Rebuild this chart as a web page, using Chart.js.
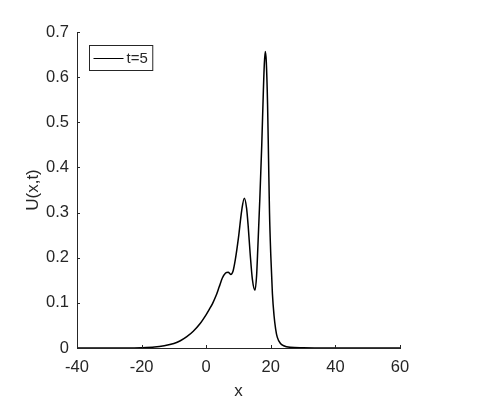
<!DOCTYPE html>
<html>
<head>
<meta charset="utf-8">
<script src="https://cdn.jsdelivr.net/npm/chart.js@4.4.1/dist/chart.umd.min.js"></script>
<style>
  body { margin: 0; background: #fff; }
  #plot { display: block; }
</style>
</head>
<body>
<canvas id="plot" width="500" height="420"></canvas>
<script>
// Profile U(x,t) at t=5
const xValues = [-40, -25, -20, -16, -13, -10, -8, -6, -4, -2, 0, 1, 2, 3, 4, 5, 6, 6.8, 7.6, 8.3,
  9, 10, 11, 11.8, 12.5, 13, 13.6, 14.3, 15.1, 15.6, 16, 16.6, 17.2, 17.7, 18.0, 18.3, 18.6,
  19.0, 19.3, 19.6, 20.0, 20.5, 21.0, 21.5, 22, 23, 24, 26, 30, 35, 60];
const uValues = [0, 0, 0.0005, 0.002, 0.005, 0.010, 0.016, 0.025, 0.037, 0.053, 0.074, 0.086, 0.099,
  0.115, 0.135, 0.155, 0.166, 0.168, 0.163, 0.170, 0.195, 0.245, 0.305, 0.332, 0.31, 0.27, 0.21,
  0.152, 0.128, 0.16, 0.225, 0.33, 0.45, 0.57, 0.63, 0.657, 0.635, 0.54, 0.42, 0.30, 0.205, 0.12,
  0.072, 0.042, 0.024, 0.01, 0.005, 0.0015, 0.0003, 0, 0];
const seriesLabel = "t=5";
const xTicks = [-40, -20, 0, 20, 40, 60];
const yTicks = [0, 0.1, 0.2, 0.3, 0.4, 0.5, 0.6, 0.7];

const axisColor = "#262626";
const fontFamily = "'Liberation Sans', Arial, sans-serif";

const points = xValues.map((x, i) => ({ x: x, y: uValues[i] }));

// MATLAB style ticks pointing into the axes
const innerTicks = {
  id: "innerTicks",
  afterDraw(chart) {
    const { ctx, chartArea } = chart;
    const xs = chart.scales.x, ys = chart.scales.y;
    ctx.save();
    ctx.strokeStyle = axisColor;
    ctx.lineWidth = 1;
    ctx.beginPath();
    xTicks.forEach(v => {
      const px = Math.round(xs.getPixelForValue(v)) + 0.5;
      ctx.moveTo(px, chartArea.bottom);
      ctx.lineTo(px, chartArea.bottom - 3);
    });
    yTicks.forEach(v => {
      const py = Math.round(ys.getPixelForValue(v)) + 0.5;
      ctx.moveTo(chartArea.left, py);
      ctx.lineTo(chartArea.left + 3, py);
    });
    ctx.stroke();
    ctx.restore();
  }
};

// boxed legend in the upper left corner of the axes
const boxedLegend = {
  id: "boxedLegend",
  afterDraw(chart) {
    const { ctx, chartArea } = chart;
    const ds = chart.data.datasets[0];
    ctx.save();
    ctx.font = "15px " + fontFamily;
    const tw = ctx.measureText(ds.label).width;
    const left = chartArea.left + 12.5, top = chartArea.top + 13.5;
    const w = 37 + tw + 5, h = 25;
    ctx.fillStyle = "#fff";
    ctx.fillRect(left, top, w, h);
    ctx.strokeStyle = axisColor;
    ctx.lineWidth = 1;
    ctx.strokeRect(left, top, w, h);
    ctx.strokeStyle = ds.borderColor;
    ctx.lineWidth = 1;
    ctx.beginPath();
    ctx.moveTo(left + 4, top + 13);
    ctx.lineTo(left + 34, top + 13);
    ctx.stroke();
    ctx.fillStyle = axisColor;
    ctx.textBaseline = "middle";
    ctx.fillText(ds.label, left + 37, top + 13);
    ctx.restore();
  }
};

new Chart(document.getElementById("plot"), {
  type: "scatter",
  data: {
    datasets: [{
      label: seriesLabel,
      data: points,
      showLine: true,
      borderColor: "#000",
      borderWidth: 1.5,
      pointRadius: 0,
      cubicInterpolationMode: "monotone",
      fill: false
    }]
  },
  options: {
    responsive: false,
    animation: false,
    layout: { padding: { left: 0, right: 100, top: 32, bottom: 0 } },
    plugins: { legend: { display: false }, tooltip: { enabled: false } },
    scales: {
      x: {
        type: "linear",
        min: -40, max: 60,
        afterFit(scale) { scale.height = 72; },
        afterBuildTicks(scale) { scale.ticks = xTicks.map(v => ({ value: v })); },
        grid: { display: false, drawTicks: false },
        border: { display: true, color: axisColor, width: 1 },
        ticks: { color: axisColor, padding: 10, maxRotation: 0, font: { size: 16.5, family: fontFamily } },
        title: { display: true, text: "x", color: axisColor, padding: { top: 0, bottom: 18 }, font: { size: 17, family: fontFamily } }
      },
      y: {
        min: 0, max: 0.7,
        afterFit(scale) { scale.width = 77; },
        afterBuildTicks(scale) { scale.ticks = yTicks.map(v => ({ value: v })); },
        grid: { display: false, drawTicks: false },
        border: { display: true, color: axisColor, width: 1 },
        ticks: { color: axisColor, padding: 8, font: { size: 16.5, family: fontFamily } },
        title: { display: true, text: "U(x,t)", color: axisColor, padding: { top: 23, bottom: 0 }, font: { size: 17, family: fontFamily } }
      }
    }
  },
  plugins: [innerTicks, boxedLegend]
});
</script>
</body>
</html>
